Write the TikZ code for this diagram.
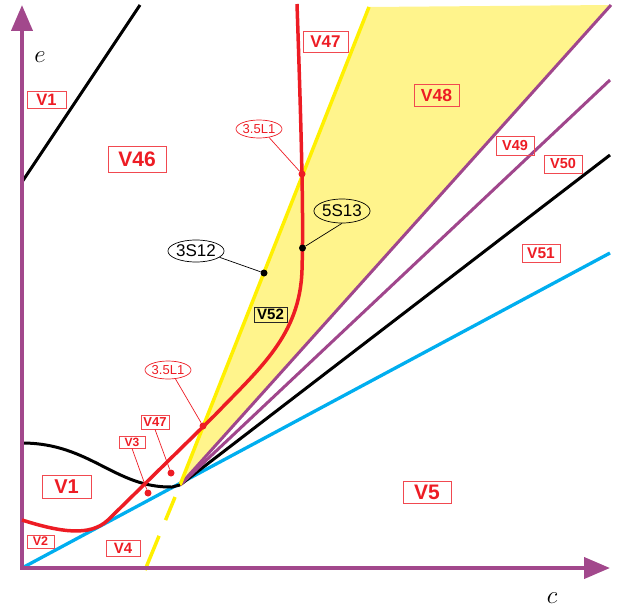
\documentclass[tikz,border=0pt]{standalone}
\usepackage{fontspec}
\setmainfont{Liberation Sans}
\usetikzlibrary{arrows.meta,shapes.geometric}
\definecolor{axpurple}{RGB}{162,72,140}
\definecolor{lpurple}{RGB}{160,70,140}
\definecolor{lred}{RGB}{237,28,36}
\definecolor{ylw}{RGB}{255,240,0}
\definecolor{yfill}{RGB}{255,244,140}
\definecolor{lblue}{RGB}{0,174,239}
\begin{document}
\begin{tikzpicture}[x=1pt,y=-1pt,
  axis/.style={draw=axpurple,line width=4pt},
  reg/.style={rectangle,draw=lred!80,line width=0.8pt,text=lred,inner sep=0pt,font=\bfseries\fontsize{#1}{#1}\selectfont},
  blk/.style={rectangle,draw=black!85,line width=0.8pt,text=black,inner sep=0pt,font=\bfseries\fontsize{#1}{#1}\selectfont},
  redell/.style={ellipse,draw=lred,line width=0.7pt,text=lred,inner sep=0pt,font=\fontsize{13}{13}\selectfont},
  blkell/.style={ellipse,draw=black,line width=0.7pt,text=black,inner sep=0pt,font=\fontsize{17}{17}\selectfont},
  rdot/.style={circle,fill=lred,inner sep=0pt,minimum size=7pt},
  bdot/.style={circle,fill=black,inner sep=0pt,minimum size=7pt},
  rlead/.style={draw=lred,line width=0.7pt},
  blead/.style={draw=black,line width=0.7pt},
  thick3/.style={line width=3pt}
]
\useasboundingbox (0,0) rectangle (620,610);
% yellow region
\fill[yfill] (180,485) -- (369,7) -- (611,5) -- cycle;
% rays
\draw[lblue,line width=3.3pt] (22,568) -- (610,253);
\draw[black,thick3] (180,485) -- (610,155);
\draw[lpurple,thick3] (180,485) -- (610,80);
\draw[lpurple,thick3] (180,485) -- (611,5);
\draw[ylw,line width=3.5pt] (180,485) -- (369,7);
\draw[ylw,line width=3.5pt,dash pattern=on 40pt off 13pt on 25pt off 17pt,dash phase=40pt] (180,485) -- (145,570);
% black curves
\draw[black,thick3] (22,182) -- (140,5);
\draw[black,thick3] (22,443) .. controls (90,443) and (115,488) .. (172,487) -- (180,485);
% axes
\draw[axis,{Triangle[length=26pt,width=21pt]}-{Triangle[length=26pt,width=21pt]}] (22,5) -- (22,568) -- (610,568);
% red curve
\draw[lred,line width=3.5pt] (22,520) .. controls (60,532) and (90,537) .. (108,520) -- (215,415) .. controls (260,368) and (300,335) .. (302,270) .. controls (303.5,220) and (302,150) .. (297,4);
% axis labels
\node (le) at (40,57) {\fontsize{25}{25}\selectfont$e$};
\node (lc) at (552,598) {\fontsize{25}{25}\selectfont$c$};
% region labels
\node[reg=16.5,minimum width=39pt,minimum height=17pt] (v1a) at (46.5,99.5) {V1};
\node[reg=21,minimum width=58pt,minimum height=26pt] (v46) at (137,159) {V46};
\node[reg=17,minimum width=45pt,minimum height=21pt] (v47a) at (325.5,41.5) {V47};
\node[reg=17.5,minimum width=45pt,minimum height=22pt] (v48) at (436.5,95) {V48};
\node[reg=14.5,minimum width=38pt,minimum height=19pt] (v49) at (515,145.5) {V49};
\node[reg=14.5,minimum width=38pt,minimum height=18pt] (v50) at (563,164) {V50};
\node[reg=15.5,minimum width=38pt,minimum height=18pt] (v51) at (541,253) {V51};
\node[blk=15,minimum width=33pt,minimum height=15pt] (v52) at (270.5,314.5) {V52};
\node[reg=21,minimum width=48pt,minimum height=22pt] (v5) at (427,492) {V5};
\node[reg=20,minimum width=49pt,minimum height=23pt] (v1b) at (66.5,486.5) {V1};
\node[reg=12.5,minimum width=27pt,minimum height=13pt] (v2) at (40.5,541.5) {V2};
\node[reg=15,minimum width=34pt,minimum height=16pt] (v4) at (123,548) {V4};
\node[reg=12,minimum width=26pt,minimum height=12pt] (v3) at (132,442) {V3};
\node[reg=13,minimum width=28pt,minimum height=14pt] (v47b) at (155,422) {V47};
% dots
\node[rdot] (d1) at (302,174) {};
\node[rdot] (d2) at (203,426) {};
\node[rdot] (d3) at (148,493) {};
\node[rdot] (d4) at (171,473) {};
\node[bdot] (d5) at (302.5,248) {};
\node[bdot] (d6) at (264,273) {};
% ellipse labels
\node[redell,minimum width=46pt,minimum height=18pt] (e1) at (259,129) {3.5L1};
\node[redell,minimum width=44pt,minimum height=18pt] (e2) at (168,370) {3.5L1};
\node[blkell,minimum width=52pt,minimum height=22pt] (e3) at (196,251) {3S12};
\node[blkell,minimum width=52pt,minimum height=24pt] (e4) at (342,211) {5S13};
% leaders
\draw[rlead] (e1.-40) -- (d1);
\draw[rlead] (e2.-50) -- (d2);
\draw[rlead] (v3.south) -- (d3);
\draw[rlead] (v47b.south) -- (d4);
\draw[blead] (e3.-15) -- (d6);
\draw[blead] (e4.south) -- (d5);
\end{tikzpicture}
\end{document}
